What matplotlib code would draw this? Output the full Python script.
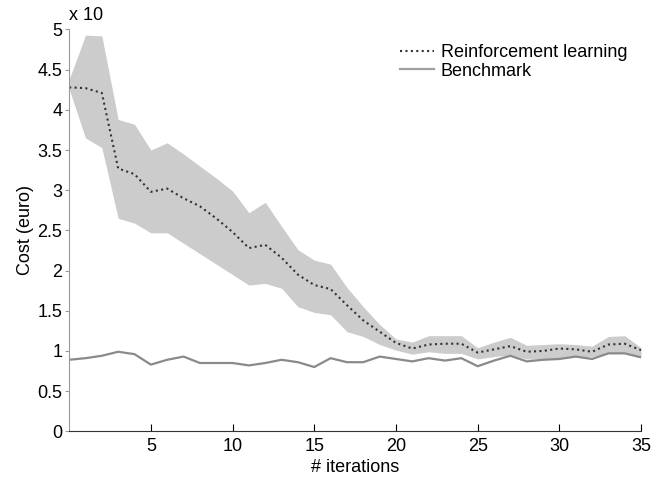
import matplotlib.pyplot as plt
import numpy as np

iterations = np.arange(0, 36)

rl_mean = [4.28, 4.27, 4.21, 3.27, 3.20, 2.98, 3.02, 2.90, 2.80, 2.65,
           2.48, 2.28, 2.32, 2.16, 1.95, 1.82, 1.77, 1.57, 1.38, 1.24,
           1.10, 1.03, 1.08, 1.09, 1.09, 0.98, 1.02, 1.06, 0.99, 1.00,
           1.03, 1.02, 0.99, 1.08, 1.09, 1.01]
rl_upper = [4.38, 4.93, 4.92, 3.88, 3.82, 3.50, 3.59, 3.45, 3.30, 3.15,
            2.99, 2.72, 2.85, 2.55, 2.26, 2.13, 2.08, 1.79, 1.55, 1.33,
            1.15, 1.11, 1.19, 1.19, 1.19, 1.04, 1.11, 1.17, 1.07, 1.08,
            1.09, 1.08, 1.06, 1.18, 1.19, 1.04]
rl_lower = [4.26, 3.65, 3.53, 2.65, 2.59, 2.47, 2.47, 2.34, 2.21, 2.08,
            1.95, 1.82, 1.84, 1.78, 1.55, 1.48, 1.45, 1.24, 1.18, 1.08,
            1.01, 0.96, 0.99, 0.97, 0.97, 0.90, 0.93, 0.95, 0.90, 0.90,
            0.91, 0.92, 0.93, 0.97, 0.97, 0.93]
benchmark = [0.89, 0.91, 0.94, 0.99, 0.96, 0.83, 0.89, 0.93, 0.85, 0.85,
             0.85, 0.82, 0.85, 0.89, 0.86, 0.80, 0.91, 0.86, 0.86, 0.93,
             0.90, 0.87, 0.91, 0.88, 0.91, 0.81, 0.88, 0.94, 0.87, 0.89,
             0.90, 0.93, 0.90, 0.97, 0.97, 0.92]

xticks = [5, 10, 15, 20, 25, 30, 35]
yticks = [0, 0.5, 1, 1.5, 2, 2.5, 3, 3.5, 4, 4.5, 5]

plt.rcParams['font.family'] = ['Liberation Sans', 'DejaVu Sans']

fig = plt.figure(figsize=(6.65, 4.83), dpi=100)
ax = fig.add_axes([0.104, 0.107, 0.860, 0.832])

ax.fill_between(iterations, rl_lower, rl_upper, color='#cccccc', lw=0)
ax.plot(iterations, rl_mean, ls=(0, (1, 1.6)), color='#333333', lw=1.5,
        label='Reinforcement learning')
ax.plot(iterations, benchmark, color='#8a8a8a', lw=1.6, label='Benchmark')

ax.set_xlim(0, 35)
ax.set_ylim(0, 5)
ax.set_xticks(xticks)
ax.set_yticks(yticks)
ax.set_yticklabels([f'{v:g}' for v in yticks])
ax.tick_params(axis='x', direction='in', length=5, labelsize=13, pad=5)
ax.tick_params(axis='y', direction='out', length=3, labelsize=13,
               color='#999999', pad=2)
ax.spines['top'].set_visible(False)
ax.spines['right'].set_visible(False)
ax.spines['left'].set_color('#999999')
ax.spines['bottom'].set_color('#333333')

ax.set_xlabel('# iterations', fontsize=13, labelpad=3)
ax.set_ylabel('Cost (euro)', fontsize=13, labelpad=2)
fig.text(0.104, 0.968, 'x 10', fontsize=13, va='center', ha='left')

leg = ax.legend(loc='upper left', frameon=False, fontsize=13,
                handlelength=1.9, handletextpad=0.35, labelspacing=0.1,
                borderpad=0, borderaxespad=0,
                bbox_to_anchor=(400 / 665, 1 - 44 / 483),
                bbox_transform=fig.transFigure)
leg.get_lines()[1].set_color('#a0a0a0')

fig.savefig('out.png', dpi=100)
